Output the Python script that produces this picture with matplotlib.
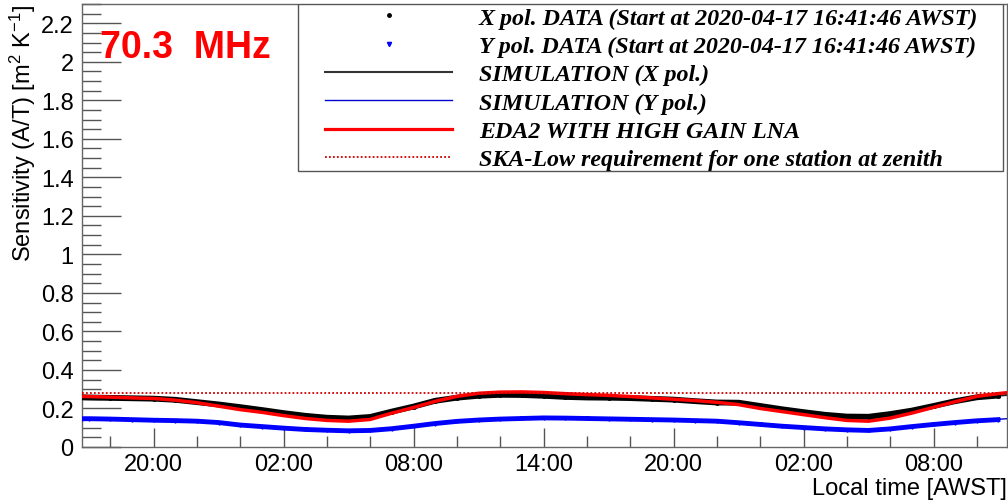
import matplotlib
matplotlib.use("Agg")
import matplotlib.pyplot as plt
from matplotlib.lines import Line2D
from matplotlib.patches import Rectangle
from matplotlib.ticker import FixedLocator, MultipleLocator, FuncFormatter

# ---------------- data ----------------
# time in hours since 2020-04-17 00:00 AWST
hours = [16.70, 17, 18, 19, 20, 21, 22, 23, 24, 25, 26, 27, 28, 29, 30, 31,
         32, 33, 34, 35, 36, 37, 38, 39, 40, 41, 42, 43, 44, 45, 46, 47,
         48, 49, 50, 51, 52, 53, 54, 55, 56, 57, 58, 58.97]

x_pol_data = [0.258, 0.257, 0.255, 0.253, 0.251, 0.245, 0.233, 0.221, 0.207,
              0.192, 0.176, 0.162, 0.152, 0.148, 0.156, 0.184, 0.210, 0.240,
              0.256, 0.266, 0.271, 0.270, 0.266, 0.260, 0.257, 0.256, 0.254,
              0.250, 0.246, 0.238, 0.231, 0.230, 0.213, 0.196, 0.181, 0.167,
              0.158, 0.157, 0.171, 0.189, 0.213, 0.238, 0.258, 0.267]

y_pol_data = [0.147, 0.147, 0.145, 0.142, 0.139, 0.137, 0.134, 0.127, 0.114,
              0.106, 0.098, 0.091, 0.087, 0.084, 0.086, 0.095, 0.108, 0.122,
              0.133, 0.140, 0.145, 0.148, 0.151, 0.150, 0.148, 0.146, 0.144,
              0.142, 0.140, 0.137, 0.134, 0.126, 0.117, 0.108, 0.101, 0.094,
              0.089, 0.086, 0.094, 0.106, 0.117, 0.127, 0.136, 0.142]

sim_hours = [16.70, 18, 20, 22, 24, 26, 28, 29, 30, 32, 34, 36, 38, 40, 42,
             44, 46, 48, 50, 52, 53, 54, 56, 58, 59.39]
sim_x_pol = [0.258, 0.255, 0.251, 0.233, 0.207, 0.176, 0.152, 0.148, 0.156,
             0.208, 0.256, 0.271, 0.266, 0.257, 0.254, 0.246, 0.231, 0.213,
             0.181, 0.158, 0.157, 0.171, 0.213, 0.258, 0.270]
sim_y_pol = [0.147, 0.145, 0.139, 0.134, 0.114, 0.098, 0.087, 0.084, 0.086,
             0.108, 0.133, 0.145, 0.151, 0.148, 0.144, 0.140, 0.134, 0.117,
             0.101, 0.089, 0.086, 0.094, 0.117, 0.136, 0.147]

eda2_hours = hours + [59.39]
eda2_high_gain = [0.263, 0.262, 0.259, 0.255, 0.252, 0.243, 0.230, 0.212, 0.194,
                  0.180, 0.163, 0.148, 0.138, 0.134, 0.143, 0.176, 0.205, 0.237,
                  0.263, 0.279, 0.285, 0.286, 0.283, 0.277, 0.272, 0.268, 0.262,
                  0.255, 0.248, 0.241, 0.232, 0.220, 0.200, 0.184, 0.168, 0.152,
                  0.138, 0.134, 0.150, 0.176, 0.206, 0.235, 0.263, 0.277, 0.282]

ska_low_requirement = 0.282

x_start, x_end = 16.696, 59.39
major_ticks = [20, 26, 32, 38, 44, 50, 56]

labels = ["X pol. DATA (Start at 2020-04-17 16:41:46 AWST)",
          "Y pol. DATA (Start at 2020-04-17 16:41:46 AWST)",
          "SIMULATION (X pol.)",
          "SIMULATION (Y pol.)",
          "EDA2 WITH HIGH GAIN LNA",
          "SKA-Low requirement for one station at zenith"]

# ---------------- figure ----------------
plt.rcParams['font.family'] = ['Liberation Sans', 'DejaVu Sans']
plt.rcParams['mathtext.fontset'] = 'custom'
plt.rcParams['mathtext.rm'] = 'Liberation Sans'
plt.rcParams['mathtext.it'] = 'Liberation Sans:italic'

fig = plt.figure(figsize=(10.08, 5.02), dpi=100)
W, H = 1008, 502
ax_l, ax_r, ax_t, ax_b = 82, 1007, 5, 448
ax = fig.add_axes([ax_l / W, 1 - ax_b / H, (ax_r - ax_l) / W, (ax_b - ax_t) / H])

ax.plot(sim_hours, sim_x_pol, color='#222222', lw=1.5, zorder=2)
ax.plot(sim_hours, sim_y_pol, color='#0000cc', lw=1.0, zorder=2)
ax.plot(hours, y_pol_data, color='#0000ff', lw=3.5, marker='v', ms=2.5,
        zorder=3, solid_joinstyle='round')
ax.plot(hours, x_pol_data, color='black', lw=4.2, marker='o', ms=2.5,
        zorder=3, solid_joinstyle='round')
ax.plot(eda2_hours, eda2_high_gain, color='#ff0000', lw=2.5, zorder=4)
ax.axhline(ska_low_requirement, color='#cc0000', lw=1.3, ls=(0, (1, 1.2)), zorder=4)

ax.set_xlim(x_start, x_end)
ax.set_ylim(0, 2.3)

ax.xaxis.set_major_locator(FixedLocator(major_ticks))
ax.xaxis.set_minor_locator(MultipleLocator(2))
ax.xaxis.set_major_formatter(FuncFormatter(lambda v, p: "%02d:00" % (int(round(v)) % 24)))
ax.yaxis.set_major_locator(MultipleLocator(0.2))
ax.yaxis.set_minor_locator(MultipleLocator(0.05))
ax.yaxis.set_major_formatter(FuncFormatter(lambda v, p: "%g" % round(v, 2)))

ax.tick_params(axis='both', which='both', direction='in', top=False, right=False,
               colors='#555555', labelcolor='black', labelsize=17, width=1)
ax.tick_params(axis='y', which='major', length=28, pad=6)
ax.tick_params(axis='y', which='minor', length=14)
ax.tick_params(axis='x', which='major', length=14, pad=4)
ax.tick_params(axis='x', which='minor', length=8)

for s in ax.spines.values():
    s.set_color('#666666')
    s.set_linewidth(1.0)

ax.set_xlabel("Local time [AWST]", fontsize=17, loc='right', labelpad=2)
ax.set_ylabel("Sensitivity (A/T) [m$^{2}$ K$^{-1}$]", fontsize=17, loc='top', labelpad=2)

ax.text(0.0195, 2.027, "70.3  MHz", color='#ff0000', fontsize=27,
        fontweight='bold', va='baseline', ha='left',
        transform=ax.get_yaxis_transform())

# legend frame
lx0, lx1, ly0, ly1 = 298, 1003, 5, 172
ax.add_patch(Rectangle(((lx0 - ax_l) / (ax_r - ax_l), (ax_b - ly1) / (ax_b - ax_t)),
                       (lx1 - lx0) / (ax_r - ax_l), (ly1 - ly0) / (ax_b - ax_t),
                       transform=ax.transAxes, facecolor='white', edgecolor='#555555',
                       lw=1.0, zorder=5))

handles = [Line2D([], [], color='black', marker='o', ms=2.5, ls='none'),
           Line2D([], [], color='#0000ff', marker='v', ms=3, ls='none'),
           Line2D([], [], color='#333333', lw=1.5),
           Line2D([], [], color='#0000cc', lw=1.0),
           Line2D([], [], color='#ff0000', lw=2.3),
           Line2D([], [], color='#cc0000', lw=1.3, ls=(0, (1, 1.2)))]
leg = ax.legend(handles, labels, loc='upper left',
                bbox_to_anchor=((325 - ax_l) / (ax_r - ax_l), (ax_b - 8) / (ax_b - ax_t)),
                frameon=False, borderpad=0, borderaxespad=0, handlelength=5.3,
                handletextpad=1.1, labelspacing=0.27,
                prop={'family': 'Liberation Serif', 'style': 'italic',
                      'weight': 'bold', 'size': 17.3})
leg.set_zorder(6)

fig.savefig("out.png", dpi=100)
